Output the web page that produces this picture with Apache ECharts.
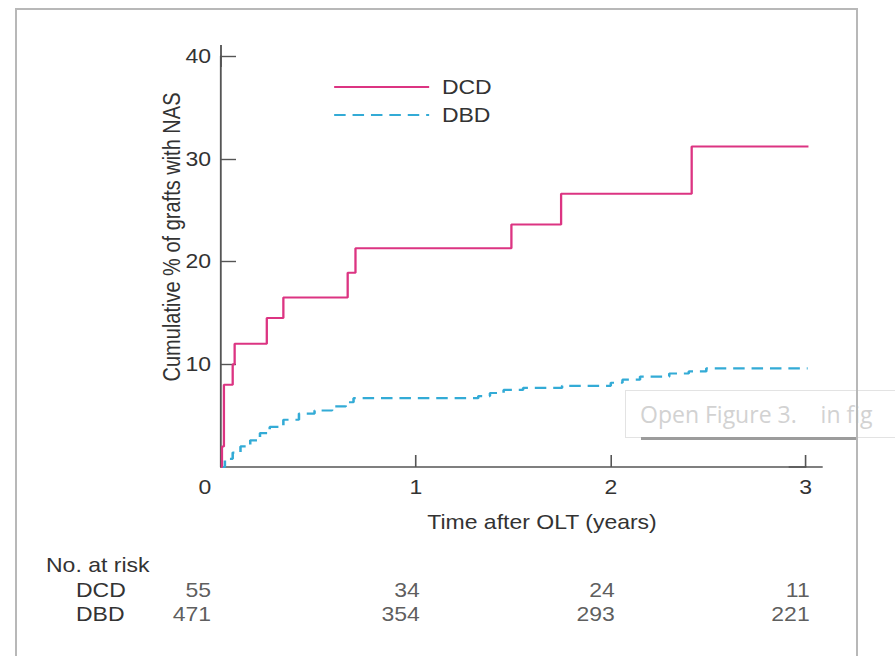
<!DOCTYPE html>
<html>
<head>
<meta charset="utf-8">
<script src="https://cdn.jsdelivr.net/npm/echarts@6/dist/echarts.min.js"></script>
<style>
  html, body { margin: 0; padding: 0; background: #fff; overflow: hidden; }
  #page { position: relative; width: 895px; height: 656px; overflow: hidden; background: #fff; }
  /* the figure is laid out narrower and stretched horizontally */
  #chart { position: absolute; left: 0; top: 0; height: 656px; transform-origin: 0 0; }
  #frame { position: absolute; left: 15px; top: 8px; width: 839px; height: 700px;
           border: 2px solid #b8b8b8; box-sizing: content-box; pointer-events: none; z-index: 3; }
  #viewer { position: absolute; left: 625px; top: 390px; width: 270px; height: 48px; z-index: 2;
            background: rgba(255,255,255,0.88); border: 1px solid #e3e3e3; border-right: none;
            box-sizing: border-box; font: 23px "Open Sans", sans-serif; color: #d2d2d2;
            line-height: 46px; padding-left: 14px; white-space: nowrap; overflow: hidden; }
  #viewer-shadow { position: absolute; left: 641px; top: 437px; width: 217px; height: 3px;
                   background: #9c9c9c; z-index: 2; }
</style>
</head>
<body>
<div id="page">
  <div id="chart"></div>
  <div id="viewer">Open Figure 3.&nbsp;&nbsp;&nbsp; in fig</div>
  <div id="viewer-shadow"></div>
  <div id="frame"></div>
</div>
<script>
// Donor groups
const groups = ['DCD', 'DBD'];

// Cumulative % of grafts with NAS: [years after OLT, cumulative %] at each step
const dcdCurve = [
  [0, 0], [0.005, 2], [0.015, 8], [0.06, 10], [0.07, 12], [0.235, 14.5],
  [0.32, 16.5], [0.65, 18.9], [0.69, 21.3], [1.49, 23.6], [1.745, 26.6],
  [2.415, 31.2], [3.02, 31.2]
];
const dbdCurve = [
  [0, 0], [0.02, 0.8], [0.06, 1.4], [0.1, 2.0], [0.15, 2.6], [0.2, 3.3],
  [0.25, 3.9], [0.32, 4.6], [0.4, 5.2], [0.48, 5.5], [0.57, 5.9], [0.64, 6.3],
  [0.68, 6.7], [1.26, 6.7], [1.32, 6.9], [1.38, 7.2], [1.45, 7.5], [1.55, 7.7],
  [1.75, 7.9], [2.0, 8.2], [2.06, 8.5], [2.15, 8.8], [2.3, 9.1], [2.4, 9.3],
  [2.49, 9.6], [3.01, 9.6]
];

// Axis ticks
const xTicks = [0, 1, 2, 3];
const yTicks = [0, 10, 20, 30, 40];

// Numbers at risk
const riskTimes = [0, 1, 2, 3];
const riskDCD = [55, 34, 24, 11];
const riskDBD = [471, 354, 293, 221];

// horizontal stretch applied to the whole chart
const S = 1.15;
const W = 895;
const px = v => v / S;   // page x -> layout x

const chartEl = document.getElementById('chart');
chartEl.style.width = px(W) + 'px';
chartEl.style.transform = 'scaleX(' + S + ')';

const FONT = '"Liberation Sans", Arial, Helvetica, sans-serif';
const FS = 20;
const TEXT = '#333';
const AXIS = '#555';
const DCD_COLOR = '#dc3482';
const DBD_COLOR = '#33abd6';

function riskSeries(name, counts) {
  return {
    name: name + ' at risk',
    type: 'scatter',
    xAxisIndex: 1,
    yAxisIndex: 1,
    symbolSize: 0,
    silent: true,
    data: riskTimes.map((t, i) => ({
      value: [t, name, counts[i]],
      label: i === 0 ? { offset: [px(-14), 0] } : {}
    })),
    label: {
      show: true,
      position: 'left',
      distance: -px(4),
      fontFamily: FONT,
      fontSize: FS,
      color: TEXT,
      formatter: p => String(p.value[2])
    }
  };
}

const chart = echarts.init(chartEl, null, { renderer: 'svg' });
chart.setOption({
  animation: false,
  backgroundColor: '#fff',
  textStyle: { fontFamily: FONT },
  legend: {
    data: groups,
    orient: 'vertical',
    left: px(333),
    top: 77,
    padding: 0,
    itemWidth: px(95),
    itemHeight: 16,
    itemGap: 8,
    selectedMode: false,
    itemStyle: { opacity: 0 },
    textStyle: { fontFamily: FONT, fontSize: FS, color: TEXT, padding: [0, 0, 0, px(7)] }
  },
  grid: [
    { left: px(221), right: px(W - 806), top: 56, bottom: 189 },
    { left: px(221), right: px(W - 806), top: 578, height: 48 }
  ],
  xAxis: [
    {
      type: 'value', gridIndex: 0, min: xTicks[0], max: xTicks[xTicks.length - 1], interval: 1,
      axisLine: { show: true, lineStyle: { color: AXIS, width: 1.6 }, symbol: ['none', 'rect'], symbolSize: [1.6, px(34)] },
      axisTick: { show: true, inside: true, length: 12, lineStyle: { color: AXIS, width: 1.4 } },
      splitLine: { show: false },
      axisLabel: {
        margin: 10, fontFamily: FONT, fontSize: FS, color: TEXT,
        formatter: v => v === 0 ? '{o|0}' : String(v),
        rich: { o: { fontFamily: FONT, fontSize: FS, color: TEXT, padding: [0, px(32), 0, 0] } }
      }
    },
    { type: 'value', gridIndex: 1, min: 0, max: 3, show: false }
  ],
  yAxis: [
    {
      type: 'value', gridIndex: 0, min: yTicks[0], max: yTicks[yTicks.length - 1], interval: 10,
      axisLine: { show: true, lineStyle: { color: AXIS, width: 1.6 }, symbol: ['none', 'rect'], symbolSize: [1.6, 22] },
      axisTick: { show: true, inside: true, length: px(15), lineStyle: { color: AXIS, width: 1.4 } },
      splitLine: { show: false },
      axisLabel: { margin: px(10), showMinLabel: false, fontFamily: FONT, fontSize: FS, color: TEXT }
    },
    {
      type: 'category', gridIndex: 1, data: groups, inverse: true,
      axisLine: { show: false }, axisTick: { show: false }, splitLine: { show: false },
      axisLabel: { interval: 0, align: 'left', margin: px(221 - 76), fontFamily: FONT, fontSize: FS, color: TEXT }
    }
  ],
  series: [
    {
      name: 'DCD', type: 'line', step: 'end', symbol: 'none',
      xAxisIndex: 0, yAxisIndex: 0,
      lineStyle: { color: DCD_COLOR, width: 2 },
      itemStyle: { color: DCD_COLOR },
      data: dcdCurve, z: 3
    },
    {
      name: 'DBD', type: 'line', step: 'end', symbol: 'none',
      xAxisIndex: 0, yAxisIndex: 0,
      lineStyle: { color: DBD_COLOR, width: 2.2, type: [10, 6] },
      itemStyle: { color: DBD_COLOR },
      data: dbdCurve, z: 2
    },
    riskSeries('DCD', riskDCD),
    riskSeries('DBD', riskDBD)
  ],
  graphic: [
    {
      type: 'text', x: px(172), y: 237, rotation: Math.PI / 2, z: 10,
      style: { text: 'Cumulative % of grafts with NAS', font: FS + 'px ' + FONT, fill: TEXT, align: 'center', verticalAlign: 'middle' }
    },
    {
      type: 'text', x: px(542), y: 522, z: 10,
      style: { text: 'Time after OLT (years)', font: FS + 'px ' + FONT, fill: TEXT, align: 'center', verticalAlign: 'middle' }
    },
    {
      type: 'text', x: px(46), y: 565, z: 10,
      style: { text: 'No. at risk', font: FS + 'px ' + FONT, fill: TEXT, align: 'left', verticalAlign: 'middle' }
    }
  ]
});
</script>
</body>
</html>
